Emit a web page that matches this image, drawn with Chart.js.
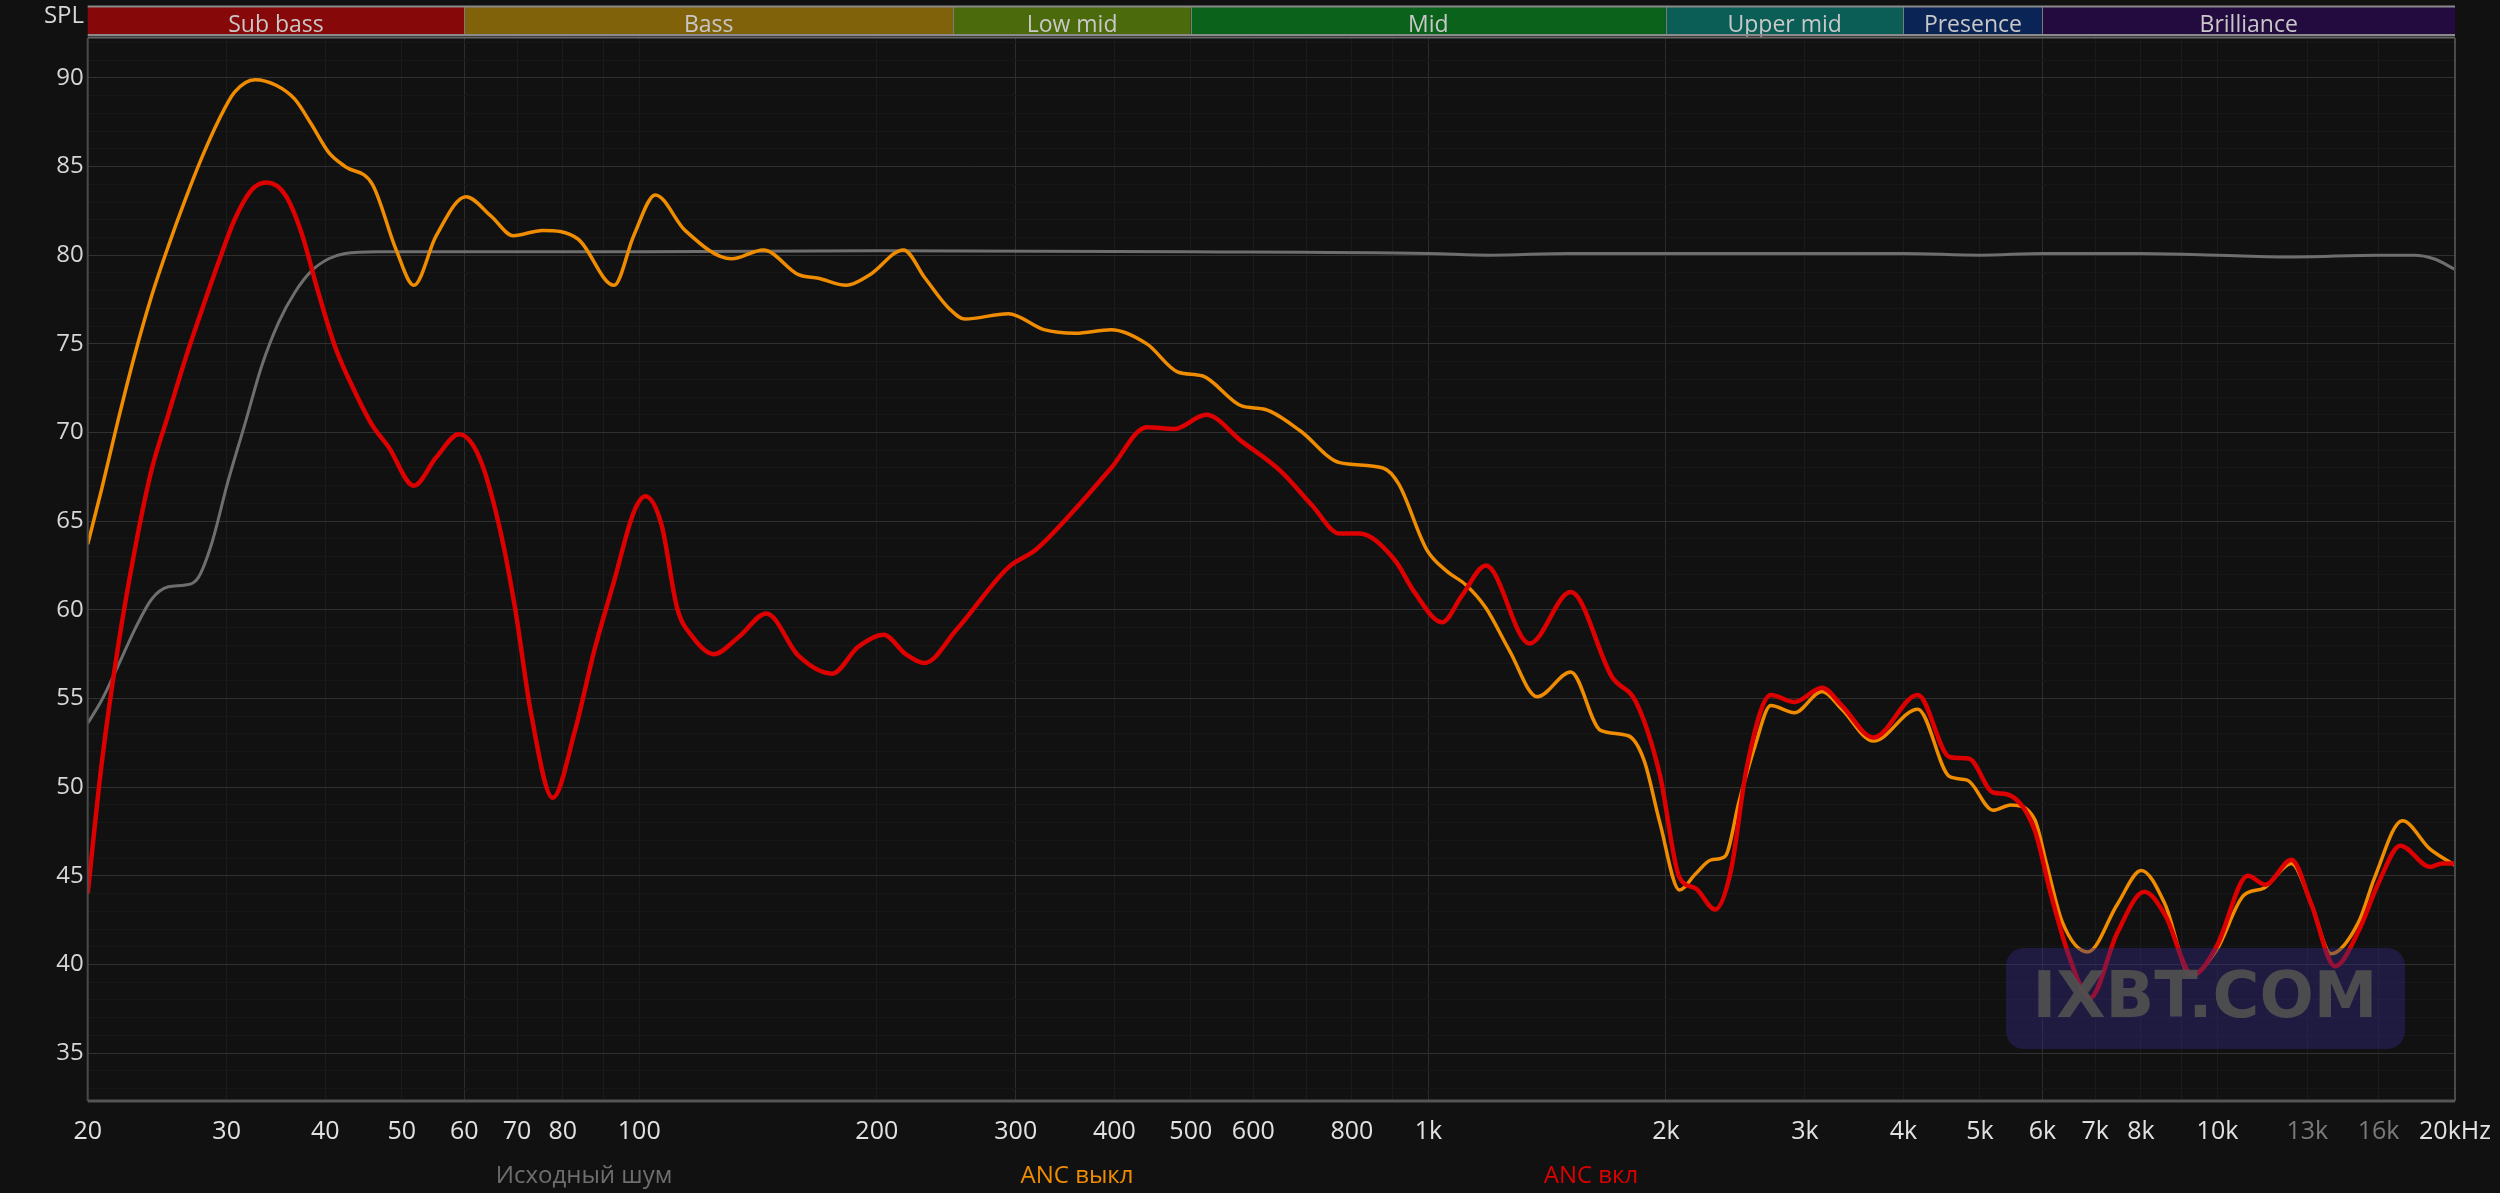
<!DOCTYPE html>
<html>
<head>
<meta charset="utf-8">
<script src="https://cdn.jsdelivr.net/npm/chart.js@4.4.0/dist/chart.umd.min.js"></script>
<style>
  html, body { margin: 0; background: #111111; }
  #wrap { width: 2500px; height: 1193px; }
</style>
</head>
<body>
<div id="wrap"><canvas id="chart"></canvas></div>
<script>
// frequency bands strip
const bandNames = ["Sub bass", "Bass", "Low mid", "Mid", "Upper mid", "Presence", "Brilliance"];
const bandEdges = [20, 60, 250, 500, 2000, 4000, 6000, 20000];
const bandColors = ["#870808", "#7f620a", "#4b6a0c", "#0b621b", "#0b5e56", "#0b2456", "#230b3f"];

// axis labels
const tickHz = [20, 30, 40, 50, 60, 70, 80, 100, 200, 300, 400, 500, 600, 800, 1000, 2000, 3000, 4000, 5000, 6000, 7000, 8000, 10000, 13000, 16000, 20000];
const tickText = ["20", "30", "40", "50", "60", "70", "80", "100", "200", "300", "400", "500", "600", "800", "1k", "2k", "3k", "4k", "5k", "6k", "7k", "8k", "10k", "13k", "16k", "20kHz"];
const dimTicks = [13000, 16000];
const yTicks = [35, 40, 45, 50, 55, 60, 65, 70, 75, 80, 85, 90];

// series: Исходный шум
const noiseHz = [20, 20.83, 21.83, 22.95, 24.1, 25.3, 26.57, 27.6, 28.7, 30.1, 31.7, 33.2, 34.9, 36.6, 38.4, 40.4, 42.4, 46.5, 60, 100, 200, 500, 1000, 1200, 1500, 2000, 4000, 5000, 6000, 8000, 10000, 12500, 16000, 17750, 18800, 20000];
const noiseDb = [53.6, 54.9, 56.8, 58.9, 60.6, 61.3, 61.4, 61.8, 63.7, 67.2, 70.6, 73.7, 76.2, 77.9, 79.1, 79.8, 80.1, 80.2, 80.2, 80.2, 80.25, 80.2, 80.1, 80.0, 80.1, 80.1, 80.1, 80.0, 80.1, 80.1, 80.0, 79.9, 80.0, 80.0, 79.8, 79.2];

// series: ANC выкл
const ancOffHz = [20, 20.83, 21.83, 22.95, 24.1, 25.3, 26.57, 27.9, 29.3, 30.7, 32.6, 34.6, 36.6, 38.4, 40.4, 42.4, 45.9, 49.2, 51.8, 55.3, 60.3, 64.9, 69.2, 75.4, 83.7, 92.9, 98.4, 104.8, 114.3,
  130.9, 143.6, 159.2, 168.7, 182.9, 196, 216.2, 230.3, 246.9, 258.5, 293.6, 325.7, 357.2, 396.3, 439.8, 482.2, 516.8, 580, 621.5, 688,
  772, 876, 917, 995, 1054, 1116, 1183, 1267, 1374, 1515, 1653, 1792, 1877, 1965, 2081, 2180, 2283, 2377, 2476, 2593, 2716, 2910, 3154, 3342, 3664,
  4172, 4576, 4818, 5195, 5472, 5864, 6071, 6358, 6851, 7468, 8007, 8581, 9247, 9970, 10800, 11450, 12410, 13150, 13930, 15100, 15820, 17150, 18600, 20000];
const ancOffDb = [63.7, 66.8, 70.6, 74.4, 77.7, 80.5, 83.1, 85.5, 87.6, 89.2, 89.9, 89.6, 88.8, 87.4, 85.8, 85.0, 84.0, 80.3, 78.3, 81.1, 83.3, 82.2, 81.1, 81.4, 80.9, 78.3, 81.1, 83.4, 81.4,
  79.8, 80.3, 78.9, 78.7, 78.3, 78.9, 80.3, 78.7, 77.0, 76.4, 76.7, 75.8, 75.6, 75.8, 75.0, 73.4, 73.2, 71.5, 71.3, 70.1,
  68.3, 68.0, 67.1, 63.4, 62.2, 61.4, 60.1, 57.7, 55.1, 56.5, 53.2, 52.9, 51.5, 48.0, 44.2, 45.1, 45.9, 46.1, 49.2, 52.3, 54.6, 54.2, 55.4, 54.4, 52.6,
  54.4, 50.6, 50.4, 48.7, 49.0, 48.2, 45.7, 42.4, 40.7, 43.4, 45.3, 43.4, 39.4, 40.8, 43.9, 44.3, 45.7, 43.4, 40.6, 42.4, 44.9, 48.1, 46.5, 45.6];

// series: ANC вкл
const ancOnHz = [20, 20.83, 21.83, 22.95, 24.1, 25.3, 26.57, 27.9, 29.3, 30.7, 32.3, 33.7, 35.6, 37.3, 39.2, 41.2, 43.4, 45.9, 48.1, 51.8, 55.3, 59.1, 62.7, 66.4, 69.6, 72.9, 77.7, 82.8, 87.7, 92.9, 98.4, 101.8, 106.7, 111.7, 116.7,
  124.3, 133.9, 144.9, 159.2, 175.6, 189.3, 204, 217.6, 229.8, 252.6, 293.6, 318.3, 357.2, 396.3, 439.8, 476.7, 522.8, 580, 650.8,
  712, 772, 817, 907, 960, 1041, 1103, 1183, 1343, 1515, 1710, 1833, 1965, 2081, 2180, 2309, 2418, 2532, 2716, 2910, 3154, 3342, 3664,
  4172, 4576, 4846, 5195, 5408, 5864, 6139, 6504, 6891, 7468, 8080, 8581, 9302, 9970, 10930, 11500, 12410, 13150, 14090, 15100, 16000, 17050, 18600, 19250, 20000];
const ancOnDb = [44.0, 51.3, 57.8, 63.4, 67.9, 71.0, 74.1, 76.9, 79.6, 82.0, 83.7, 84.1, 83.4, 81.3, 77.9, 74.8, 72.5, 70.4, 69.2, 67.0, 68.6, 69.9, 68.6, 64.8, 60.1, 54.2, 49.4, 53.1, 57.7, 61.6, 65.5, 66.4, 64.8, 60.1, 58.5,
  57.5, 58.5, 59.8, 57.4, 56.4, 57.9, 58.6, 57.5, 57.0, 58.9, 62.4, 63.4, 65.7, 68.0, 70.3, 70.2, 71.0, 69.5, 67.8,
  65.9, 64.3, 64.3, 62.8, 61.0, 59.3, 60.8, 62.5, 58.1, 61.0, 56.2, 54.8, 50.7, 44.9, 44.3, 43.1, 45.3, 51.1, 55.2, 54.8, 55.6, 54.6, 52.8,
  55.2, 51.7, 51.6, 49.7, 49.6, 47.6, 44.1, 40.3, 38.1, 41.8, 44.1, 42.8, 39.4, 41.0, 45.0, 44.5, 45.9, 43.4, 39.9, 41.9, 44.6, 46.7, 45.5, 45.7, 45.7];

const FONT = "'Open Sans', 'Noto Sans', sans-serif";

// vertical grid at 1..9 of each decade
const gridHz = [];
[10, 100, 1000, 10000].forEach(function (d) {
  for (let m = 1; m <= 9; m++) {
    const v = d * m;
    if (v >= 20 && v <= 20000) gridHz.push(v);
  }
});
gridHz.push(13000, 16000);
gridHz.sort(function (a, b) { return a - b; });
const brightHz = [60, 300, 1000, 2000, 6000];

function pts(xs, ys) {
  return xs.map(function (x, i) { return { x: x, y: ys[i] }; });
}

const decor = {
  id: "decor",
  beforeDraw(chart) {
    const ctx = chart.ctx;
    ctx.save();
    ctx.fillStyle = "#111111";
    ctx.fillRect(0, 0, chart.width, chart.height);
    ctx.restore();
  },
  afterDatasetsDraw(chart) {
    // watermark
    const ctx = chart.ctx;
    ctx.save();
    ctx.fillStyle = "rgba(51,41,131,0.42)";
    ctx.beginPath();
    ctx.roundRect(2006, 948, 399, 101, 18);
    ctx.fill();
    ctx.fillStyle = "rgba(80,80,80,0.92)";
    ctx.font = "bold 64px 'DejaVu Sans'";
    ctx.textAlign = "center";
    ctx.textBaseline = "middle";
    ctx.fillText("IXBT.COM", 2205, 1000, 345);
    ctx.restore();
  },
  afterDraw(chart) {
    const ctx = chart.ctx;
    const a = chart.chartArea;
    const xs = chart.scales.x;
    ctx.save();

    // band strip
    const top = 6.5, bot = 35;
    for (let i = 0; i < bandNames.length; i++) {
      const x0 = xs.getPixelForValue(bandEdges[i]);
      const x1 = xs.getPixelForValue(bandEdges[i + 1]);
      ctx.fillStyle = bandColors[i];
      ctx.fillRect(x0, top, x1 - x0, bot - top);
      if (i > 0) {
        ctx.strokeStyle = "#7a7a7a";
        ctx.lineWidth = 1;
        ctx.beginPath();
        ctx.moveTo(Math.round(x0) + 0.5, top);
        ctx.lineTo(Math.round(x0) + 0.5, bot);
        ctx.stroke();
      }
      ctx.fillStyle = "#c8c8c8";
      ctx.font = "23px " + FONT;
      ctx.textAlign = "center";
      ctx.textBaseline = "alphabetic";
      ctx.fillText(bandNames[i], (x0 + x1) / 2, 32);
    }
    ctx.strokeStyle = "#8a8a8a";
    ctx.lineWidth = 2;
    ctx.beginPath();
    ctx.moveTo(a.left, top);
    ctx.lineTo(a.right, top);
    ctx.moveTo(a.left, bot);
    ctx.lineTo(a.right, bot);
    ctx.stroke();

    // plot frame
    ctx.strokeStyle = "#666666";
    ctx.lineWidth = 2;
    ctx.beginPath();
    ctx.moveTo(a.left, a.top - 0.5);
    ctx.lineTo(a.right, a.top - 0.5);
    ctx.stroke();
    ctx.strokeStyle = "#4a4a4a";
    ctx.beginPath();
    ctx.moveTo(a.left, a.top);
    ctx.lineTo(a.left, a.bottom);
    ctx.moveTo(a.right, a.top);
    ctx.lineTo(a.right, a.bottom);
    ctx.stroke();
    ctx.strokeStyle = "#555555";
    ctx.lineWidth = 3;
    ctx.beginPath();
    ctx.moveTo(a.left, a.bottom);
    ctx.lineTo(a.right, a.bottom);
    ctx.stroke();

    // SPL label
    ctx.fillStyle = "#d6d6d6";
    ctx.font = "24px " + FONT;
    ctx.textAlign = "right";
    ctx.textBaseline = "middle";
    ctx.fillText("SPL", 84, 16);

    // legend under the axis
    const legendX = [584, 1077, 1591];
    ctx.font = "24px " + FONT;
    ctx.textAlign = "center";
    chart.data.datasets.forEach(function (ds, i) {
      ctx.fillStyle = ds.borderColor;
      ctx.fillText(ds.label, legendX[i], 1176);
    });
    ctx.restore();
  }
};

new Chart(document.getElementById("chart"), {
  type: "line",
  data: {
    datasets: [
      {
        label: "Исходный шум",
        data: pts(noiseHz, noiseDb),
        borderColor: "#6e6e6e",
        borderWidth: 3,
        order: 2
      },
      {
        label: "ANC выкл",
        data: pts(ancOffHz, ancOffDb),
        borderColor: "#f08c00",
        borderWidth: 3.5,
        order: 1
      },
      {
        label: "ANC вкл",
        data: pts(ancOnHz, ancOnDb),
        borderColor: "#dd0000",
        borderWidth: 4.5,
        order: 0
      }
    ]
  },
  options: {
    responsive: true,
    maintainAspectRatio: false,
    animation: false,
    devicePixelRatio: 1,
    layout: { padding: { top: 38, right: 45, left: 0, bottom: 0 } },
    elements: {
      point: { radius: 0 },
      line: { cubicInterpolationMode: "monotone", fill: false }
    },
    plugins: {
      legend: { display: false },
      tooltip: { enabled: false }
    },
    scales: {
      x: {
        type: "logarithmic",
        min: 20,
        max: 20000,
        afterBuildTicks: function (s) {
          s.ticks = gridHz.map(function (v) { return { value: v }; });
        },
        afterFit: function (s) {
          s.height = 92;
          // labels at the ends may overhang; keep the plot edges fixed
          s.paddingLeft = 0;
          s.paddingRight = 0;
        },
        ticks: {
          autoSkip: false,
          maxRotation: 0,
          minRotation: 0,
          padding: 16,
          font: { family: FONT, size: 25 },
          color: function (c) {
            return dimTicks.includes(c.tick.value) ? "#7a7a7a" : "#e2e2e2";
          },
          callback: function (v) {
            const i = tickHz.indexOf(v);
            return i < 0 ? "" : tickText[i];
          }
        },
        grid: {
          drawTicks: false,
          lineWidth: 1,
          color: function (c) {
            return brightHz.includes(c.tick.value) ? "#2c2c2c" : "#1b1b1b";
          }
        },
        border: { display: false }
      },
      y: {
        min: 32.3,
        max: 92.25,
        afterBuildTicks: function (s) {
          const t = [];
          for (let v = 33; v <= 92; v++) t.push({ value: v });
          s.ticks = t;
        },
        afterFit: function (s) { s.width = 87.7; },
        ticks: {
          autoSkip: false,
          padding: 4,
          font: { family: FONT, size: 24 },
          color: "#d6d6d6",
          callback: function (v) { return yTicks.includes(v) ? String(v) : ""; }
        },
        grid: {
          drawTicks: false,
          lineWidth: 1,
          color: function (c) {
            return yTicks.includes(c.tick.value) ? "#303030" : "#171717";
          }
        },
        border: { display: false }
      }
    }
  },
  plugins: [decor]
});
</script>
</body>
</html>
